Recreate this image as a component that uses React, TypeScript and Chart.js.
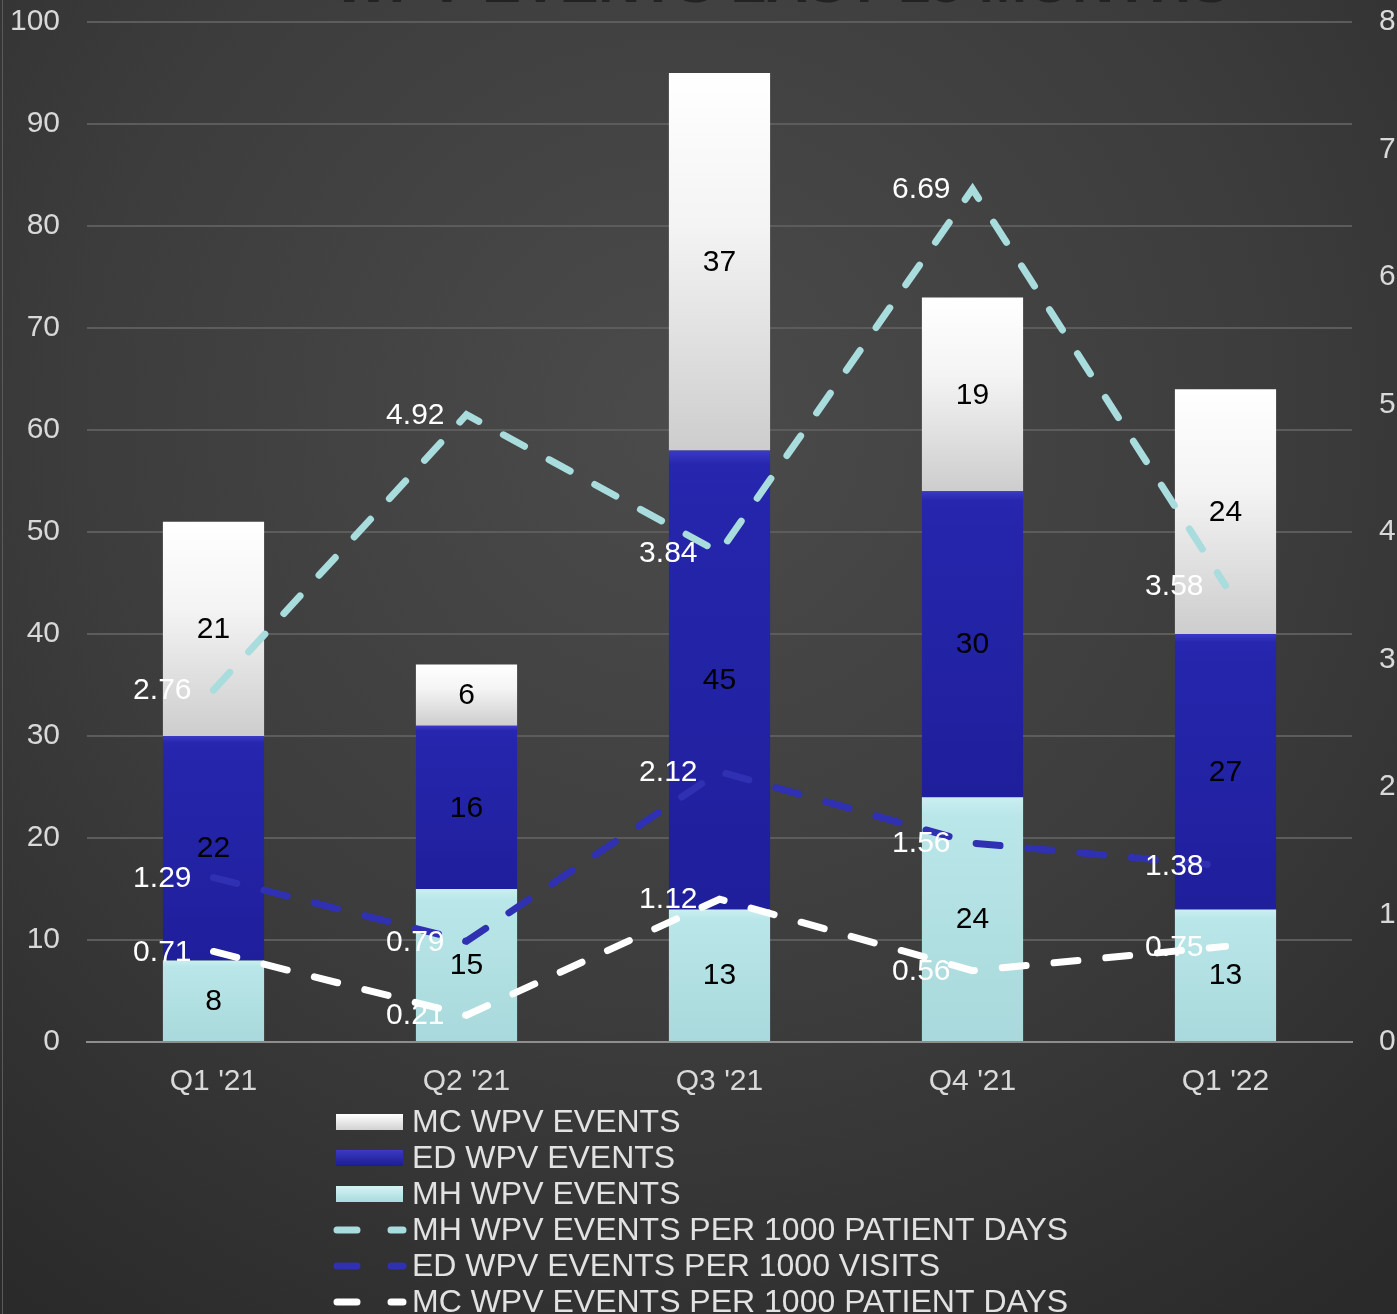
import { useEffect, useRef } from 'react';
import { Chart, registerables } from 'chart.js';

Chart.register(...registerables);

const categories = ["Q1 '21", "Q2 '21", "Q3 '21", "Q4 '21", "Q1 '22"];
const mhEvents = [8, 15, 13, 24, 13];
const edEvents = [22, 16, 45, 30, 27];
const mcEvents = [21, 6, 37, 19, 24];
const mhRate = [2.76, 4.92, 3.84, 6.69, 3.58];
const edRate = [1.29, 0.79, 2.12, 1.56, 1.38];
const mcRate = [0.71, 0.21, 1.12, 0.56, 0.75];
const leftMax = 100;
const leftStep = 10;
const rightMax = 8;
const rightStep = 1;
const titleText = 'WPV EVENTS LAST 15 MONTHS';

const FONT = '"Liberation Sans", Arial, sans-serif';
const W = 1397;
const H = 1314;
const PLOT_LEFT = 87;
const PLOT_RIGHT = 1352;
const PLOT_TOP = 22;
const PLOT_BOTTOM = 1042;

const legendItems = [
  { label: 'MC WPV EVENTS', kind: 'bar', colors: ['#ffffff', '#d2d2d2'] },
  { label: 'ED WPV EVENTS', kind: 'bar', colors: ['#3a3ac4', '#1c1c92'] },
  { label: 'MH WPV EVENTS', kind: 'bar', colors: ['#d4f4f5', '#a9dadd'] },
  { label: 'MH WPV EVENTS PER 1000 PATIENT DAYS', kind: 'line', colors: ['#a8dcdd'] },
  { label: 'ED WPV EVENTS PER 1000 VISITS', kind: 'line', colors: ['#3030b2'] },
  { label: 'MC WPV EVENTS PER 1000 PATIENT DAYS', kind: 'line', colors: ['#ffffff'] },
];

function segGradient(ctx: any, lower: number[], vals: number[], stops: [number, string][], fallback: string) {
  const chart = ctx.chart;
  if (!chart.chartArea || ctx.type !== 'data' || !chart.scales.y) return fallback;
  const i = ctx.dataIndex;
  const y = chart.scales.y;
  const top = y.getPixelForValue(lower[i] + vals[i]);
  const bot = y.getPixelForValue(lower[i]);
  if (!isFinite(top) || !isFinite(bot) || top === bot) return fallback;
  const g = chart.ctx.createLinearGradient(0, top, 0, bot);
  stops.forEach(([o, c]) => g.addColorStop(o, c));
  return g;
}

const zeros = categories.map(() => 0);
const mhPlusEd = mhEvents.map((v, i) => v + edEvents[i]);

const bgPlugin = {
  id: 'bgPlugin',
  beforeDraw(chart: any) {
    const { ctx } = chart;
    ctx.save();
    const g = ctx.createRadialGradient(680, 420, 0, 680, 420, 1100);
    g.addColorStop(0, '#4b4b4b');
    g.addColorStop(0.55, '#3c3c3c');
    g.addColorStop(1, '#2a2a2a');
    ctx.fillStyle = g;
    ctx.fillRect(0, 0, chart.width, chart.height);
    ctx.fillStyle = '#5a5a5a';
    ctx.fillRect(2, 0, 1, chart.height);
    // title, mostly cut off above the visible area
    ctx.font = `bold 58px ${FONT}`;
    ctx.fillStyle = '#222222';
    ctx.textAlign = 'center';
    ctx.textBaseline = 'alphabetic';
    ctx.fillText(titleText, 782, 2, 955);
    ctx.restore();
  },
};

const labelPlugin = {
  id: 'labelPlugin',
  afterDatasetsDraw(chart: any) {
    const { ctx } = chart;
    ctx.save();
    ctx.font = `30px ${FONT}`;
    chart.data.datasets.forEach((ds: any, di: number) => {
      const meta = chart.getDatasetMeta(di);
      if (meta.hidden) return;
      meta.data.forEach((el: any, i: number) => {
        const v = ds.data[i];
        if (meta.type === 'bar') {
          ctx.fillStyle = '#000000';
          ctx.textAlign = 'center';
          ctx.textBaseline = 'middle';
          ctx.fillText(String(v), el.x, (el.y + el.base) / 2 + 1);
        } else {
          ctx.fillStyle = '#ffffff';
          ctx.textAlign = 'right';
          ctx.textBaseline = 'middle';
          ctx.fillText(v.toFixed(2), el.x - 22, el.y + 1);
        }
      });
    });
    ctx.restore();
  },
};

const legendPlugin = {
  id: 'customLegend',
  afterDraw(chart: any) {
    const { ctx } = chart;
    ctx.save();
    ctx.font = `32px ${FONT}`;
    ctx.textAlign = 'left';
    ctx.textBaseline = 'middle';
    legendItems.forEach((it, k) => {
      const cy = 1122 + k * 36;
      if (it.kind === 'bar') {
        const g = ctx.createLinearGradient(0, cy - 8, 0, cy + 8);
        g.addColorStop(0, it.colors[0]);
        g.addColorStop(1, it.colors[1]);
        ctx.fillStyle = g;
        ctx.fillRect(336, cy - 8, 67, 16);
      } else {
        ctx.strokeStyle = it.colors[0];
        ctx.lineWidth = 7;
        ctx.lineCap = 'round';
        ctx.beginPath();
        ctx.moveTo(337, cy);
        ctx.lineTo(357, cy);
        ctx.moveTo(391, cy);
        ctx.lineTo(403, cy);
        ctx.stroke();
      }
      ctx.fillStyle = '#e2e2e2';
      ctx.fillText(it.label, 412, cy + 1);
    });
    ctx.restore();
  },
};

export default function App() {
  const ref = useRef<HTMLCanvasElement | null>(null);

  useEffect(() => {
    const canvas = ref.current;
    if (!canvas) return;
    const prevOverflow = document.body.style.overflow;
    document.body.style.overflow = 'hidden';

    const lineCommon = {
      type: 'line' as const,
      yAxisID: 'y1',
      borderWidth: 7,
      borderDash: [24, 28],
      borderCapStyle: 'round' as const,
      pointRadius: 0,
      pointHoverRadius: 0,
      fill: false,
      tension: 0,
      order: 0,
    };

    const fitVertical = (width: number) => (s: any) => {
      s.width = width;
      s.paddingTop = 0;
      s.paddingBottom = 0;
    };

    const chart = new Chart(canvas, {
      type: 'bar',
      data: {
        labels: categories,
        datasets: [
          {
            type: 'bar',
            label: 'MH WPV EVENTS',
            data: mhEvents,
            yAxisID: 'y',
            order: 1,
            backgroundColor: (c: any) =>
              segGradient(c, zeros, mhEvents, [[0, '#c9eff1'], [0.08, '#b9e6e9'], [1, '#a9d9dc']], '#b4e3e6'),
          },
          {
            type: 'bar',
            label: 'ED WPV EVENTS',
            data: edEvents,
            yAxisID: 'y',
            order: 1,
            backgroundColor: (c: any) =>
              segGradient(c, mhEvents, edEvents, [[0, '#3a3ac6'], [0.03, '#2626ae'], [1, '#1f1f9c']], '#2424a8'),
          },
          {
            type: 'bar',
            label: 'MC WPV EVENTS',
            data: mcEvents,
            yAxisID: 'y',
            order: 1,
            backgroundColor: (c: any) =>
              segGradient(c, mhPlusEd, mcEvents, [[0, '#ffffff'], [0.4, '#f4f4f4'], [1, '#cdcdcd']], '#e6e6e6'),
          },
          { ...lineCommon, label: 'MH WPV EVENTS PER 1000 PATIENT DAYS', data: mhRate, borderColor: '#a8dcdd' },
          { ...lineCommon, label: 'ED WPV EVENTS PER 1000 VISITS', data: edRate, borderColor: '#3030b2' },
          { ...lineCommon, label: 'MC WPV EVENTS PER 1000 PATIENT DAYS', data: mcRate, borderColor: '#ffffff' },
        ] as any,
      },
      options: {
        animation: false,
        responsive: false,
        maintainAspectRatio: false,
        devicePixelRatio: 1,
        layout: { padding: { top: PLOT_TOP, bottom: 0, left: 0, right: 0 } },
        datasets: {
          bar: { categoryPercentage: 1, barPercentage: 0.4 },
        } as any,
        plugins: {
          legend: { display: false },
          tooltip: { enabled: false },
          title: { display: false },
        },
        scales: {
          x: {
            stacked: true,
            offset: true,
            grid: { display: false, drawTicks: false },
            border: { display: true, color: '#8e8e8e', width: 2 },
            ticks: {
              color: '#d9d9d9',
              font: { size: 30, family: FONT },
              padding: 22,
              maxRotation: 0,
              autoSkip: false,
            },
            afterFit: (s: any) => {
              s.height = H - PLOT_BOTTOM;
            },
          },
          y: {
            type: 'linear',
            position: 'left',
            stacked: true,
            min: 0,
            max: leftMax,
            ticks: {
              stepSize: leftStep,
              color: '#d9d9d9',
              font: { size: 30, family: FONT },
              padding: 27,
            },
            grid: { color: '#5c5c5c', lineWidth: 2, drawTicks: false },
            border: { display: false },
            afterFit: fitVertical(PLOT_LEFT),
          },
          y1: {
            type: 'linear',
            position: 'right',
            stacked: false,
            min: 0,
            max: rightMax,
            ticks: {
              stepSize: rightStep,
              color: '#d9d9d9',
              font: { size: 30, family: FONT },
              padding: 27,
            },
            grid: { display: false, drawTicks: false },
            border: { display: false },
            afterFit: fitVertical(W - PLOT_RIGHT),
          },
        },
      },
      plugins: [bgPlugin, labelPlugin, legendPlugin],
    });

    return () => {
      chart.destroy();
      document.body.style.overflow = prevOverflow;
    };
  }, []);

  return (
    <canvas
      ref={ref}
      width={W}
      height={H}
      style={{ position: 'fixed', left: 0, top: 0, width: W, height: H, display: 'block' }}
    />
  );
}
